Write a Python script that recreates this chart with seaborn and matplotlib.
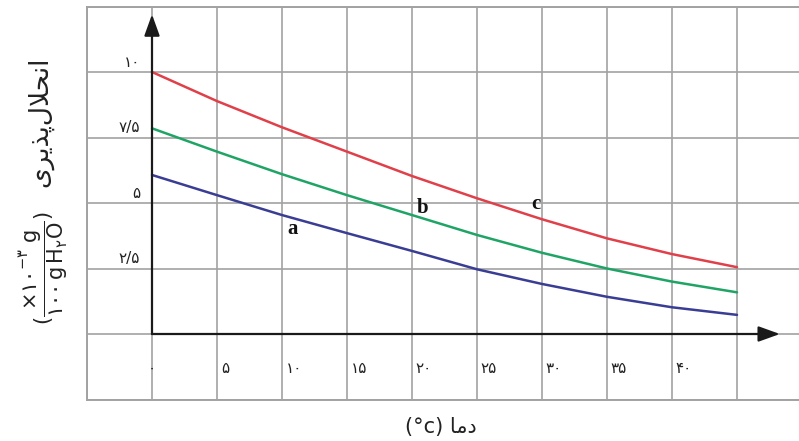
import matplotlib
matplotlib.use("Agg")
import matplotlib.pyplot as plt
import seaborn as sns
import pandas as pd

# Temperature (°C) and solubility (x10^-3 g per 100 g H2O) for the three substances
temps = [0, 5, 10, 15, 20, 25, 30, 35, 40, 45]
sol_c = [10.0, 8.89, 7.89, 6.96, 6.03, 5.18, 4.38, 3.65, 3.05, 2.55]
sol_b = [7.85, 6.96, 6.10, 5.30, 4.54, 3.78, 3.10, 2.50, 2.00, 1.59]
sol_a = [6.07, 5.30, 4.54, 3.85, 3.17, 2.47, 1.91, 1.42, 1.02, 0.73]

x_ticks = [0, 5, 10, 15, 20, 25, 30, 35, 40]
x_tick_labels = ["۰", "۵", "۱۰", "۱۵", "۲۰", "۲۵", "۳۰", "۳۵", "۴۰"]
y_ticks = [2.5, 5, 7.5, 10]
y_tick_labels = ["۲/۵", "۵", "۷/۵", "۱۰"]

curve_names = ["a", "b", "c"]
curve_label_pos = [(10.85, 4.0), (20.8, 4.8), (29.5, 4.95)]

sns.set_style("white")
plt.rcParams["font.family"] = ["DejaVu Sans"]
plt.rcParams["mathtext.fontset"] = "dejavusans"

W, H = 799, 441
fig = plt.figure(figsize=(W / 100, H / 100), dpi=100)

# pixel geometry of the grid
x0_px, px_per_x = 152, 13.0
y0_px, px_per_y = 334, 26.2
xmin, xmax = -5, (W - x0_px) / px_per_x
ymin, ymax = -2.5, 12.5
left = x0_px + xmin * px_per_x
bottom_px = y0_px - ymin * px_per_y
top_px = y0_px - ymax * px_per_y
ax = fig.add_axes([left / W, (H - bottom_px) / H, (W - left) / W, (bottom_px - top_px) / H])
ax.set_xlim(xmin, xmax)
ax.set_ylim(ymin, ymax)

grid_col = "#a2a2a2"
ax.set_xticks([v for v in range(-5, 50, 5)])
ax.set_yticks([-2.5, 0, 2.5, 5, 7.5, 10, 12.5])
ax.grid(True, color=grid_col, lw=1.2)
ax.tick_params(length=0, labelbottom=False, labelleft=False)
for side in ["left", "top", "bottom"]:
    ax.spines[side].set_color(grid_col)
    ax.spines[side].set_linewidth(1.4)
ax.spines["right"].set_visible(False)

df = pd.DataFrame({
    "temp": temps * 3,
    "sol": sol_a + sol_b + sol_c,
    "substance": ["a"] * len(temps) + ["b"] * len(temps) + ["c"] * len(temps),
})
palette = {"a": "#3a3d94", "b": "#1fa466", "c": "#e0404a"}
sns.lineplot(data=df, x="temp", y="sol", hue="substance", palette=palette,
             lw=1.8, legend=False, ax=ax, zorder=3)

# axes with arrow heads
arrow_kw = dict(arrowstyle="-|>,head_length=1.0,head_width=0.36", color="#1a1a1a",
                lw=1.6, mutation_scale=13, shrinkA=0, shrinkB=0)
ax.annotate("", xy=(48.3, 0), xytext=(0, 0), arrowprops=arrow_kw, zorder=4)
ax.annotate("", xy=(0, 12.2), xytext=(0, 0), arrowprops=arrow_kw, zorder=4)

# tick labels
for v, s in zip(y_ticks, y_tick_labels):
    ax.text(-0.92, v + 0.38, s, ha="right", va="center", fontsize=11, color="#222222")
for v, s in zip(x_ticks, x_tick_labels):
    if v == 0:
        ax.text(v, -1.3, s, ha="center", va="center", fontsize=11, color="#222222")
    else:
        ax.text(v + 0.3, -1.3, s, ha="left", va="center", fontsize=11, color="#222222")

# curve names
for name, (cx, cy) in zip(curve_names, curve_label_pos):
    ax.text(cx, cy, name, ha="center", va="center", fontsize=15, fontweight="bold",
            family="Liberation Serif", color="#111111", zorder=5)

# axis titles (Persian, in presentation forms)
x_title = "(°c) " + "\uFE8E\uFEE3\uFEA9"
fig.text(441 / W, 1 - 427 / H, x_title, ha="center", va="center", fontsize=15, color="#222222")

word = "\uFBFC\uFEAE\uFBFE\uFEAC\uFB58\uFEDD\uFEFC\uFEA4\uFEE7\uFE8D"
unit = r"($\dfrac{\times ۱۰^{-۳}\ \mathrm{g}}{۱۰۰\,\mathrm{g\,H_{۲}O}}$)"
fig.text(44 / W, 1 - 268 / H, unit, rotation=90, ha="center", va="center",
         fontsize=15, color="#222222")
fig.text(40 / W, 1 - 122 / H, word, rotation=90, ha="center", va="center",
         fontsize=19, color="#222222")

fig.savefig("out.png", dpi=100)
